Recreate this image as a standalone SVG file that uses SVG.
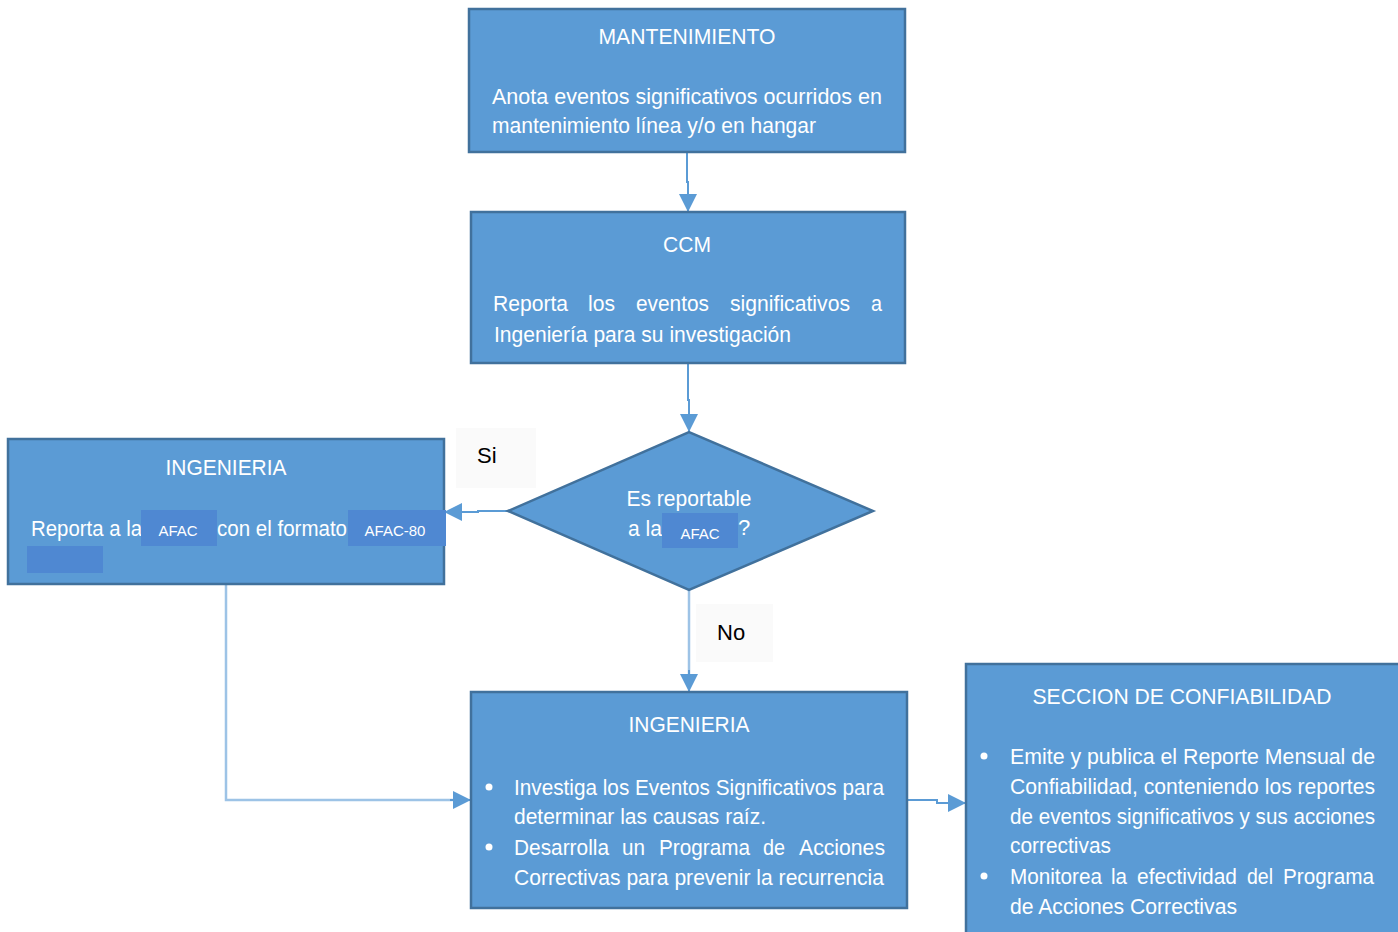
<svg xmlns="http://www.w3.org/2000/svg" width="1398" height="932" viewBox="0 0 1398 932">
  <defs>
    <style>
      .box { fill: #5B9BD5; stroke: #41719C; stroke-width: 2.5; }
      .hl { fill: #4F88D2; }
      .t { font-family: "Liberation Sans", Arial, sans-serif; font-size: 22px; fill: #FFFFFF; }
      .tc { text-anchor: middle; }
      .small { font-family: "Liberation Sans", Arial, sans-serif; font-size: 15px; fill: #FFFFFF; text-anchor: middle; }
      .lbl { font-family: "Liberation Sans", Arial, sans-serif; font-size: 22px; fill: #000000; }
      .lblbg { fill: #FAFAFA; }
      .con { fill: none; stroke: #5B9BD5; stroke-width: 2; }
      .conl { fill: none; stroke: #9DC3E6; stroke-width: 2.5; }
      .bullet { fill: #FFFFFF; }
    </style>
    <marker id="arrow" viewBox="0 0 10 10" refX="10" refY="5" markerWidth="18" markerHeight="18" markerUnits="userSpaceOnUse" orient="auto">
      <path d="M0,0 L10,5 L0,10 Z" fill="#5B9BD5"/>
    </marker>
  </defs>

  <rect width="1398" height="932" fill="#FFFFFF"/>

  <!-- label backgrounds -->
  <rect class="lblbg" x="456" y="428" width="80" height="60"/>
  <rect class="lblbg" x="696" y="604" width="77" height="58"/>

  <!-- connectors -->
  <g id="connectors">
    <path class="con" d="M687,152 L687,182 L688,182 L688,212" marker-end="url(#arrow)"/>
    <path class="con" d="M688,363 L688,400 L689,400 L689,432" marker-end="url(#arrow)"/>
    <path class="con" d="M508,511 L478,511 L478,512 L444,512" marker-end="url(#arrow)"/>
    <path class="conl" d="M689,590 L689,678"/>
    <path class="con" d="M689,670 L689,692" marker-end="url(#arrow)"/>
    <path class="conl" d="M226,584 L226,800 L458,800"/>
    <path class="con" d="M450,800 L471,800" marker-end="url(#arrow)"/>
    <path class="con" d="M907,800 L937,800 L937,803 L966,803" marker-end="url(#arrow)"/>
  </g>

  <!-- labels -->
  <text class="lbl" x="477" y="463">Si</text>
  <text class="lbl" x="717" y="640">No</text>

  <g id="mantenimiento">
    <rect class="box" x="469" y="9" width="436" height="143"/>
    <text class="t tc" x="687" y="44" textLength="177" lengthAdjust="spacingAndGlyphs">MANTENIMIENTO</text>
    <text class="t" x="492" y="104" textLength="390" lengthAdjust="spacingAndGlyphs">Anota eventos significativos ocurridos en</text>
    <text class="t" x="492" y="133" textLength="324" lengthAdjust="spacingAndGlyphs">mantenimiento línea y/o en hangar</text>
  </g>

  <g id="ccm">
    <rect class="box" x="471" y="212" width="434" height="151"/>
    <text class="t tc" x="687" y="252" textLength="48" lengthAdjust="spacingAndGlyphs">CCM</text>
    <text class="t" y="311">
      <tspan x="493" textLength="75" lengthAdjust="spacingAndGlyphs">Reporta</tspan>
      <tspan x="588" textLength="27" lengthAdjust="spacingAndGlyphs">los</tspan>
      <tspan x="636" textLength="73" lengthAdjust="spacingAndGlyphs">eventos</tspan>
      <tspan x="730" textLength="120" lengthAdjust="spacingAndGlyphs">significativos</tspan>
      <tspan x="871" textLength="11" lengthAdjust="spacingAndGlyphs">a</tspan>
    </text>
    <text class="t" x="494" y="342" textLength="297" lengthAdjust="spacingAndGlyphs">Ingeniería para su investigación</text>
  </g>

  <g id="decision">
    <polygon class="box" points="508,511 689,432 873,511 689,590"/>
    <text class="t tc" x="689" y="506" textLength="125" lengthAdjust="spacingAndGlyphs">Es reportable</text>
    <text class="t" x="628" y="536" textLength="34" lengthAdjust="spacingAndGlyphs">a la</text>
    <rect class="hl" x="662" y="513" width="76" height="35"/>
    <text class="small" x="700" y="539">AFAC</text>
    <text class="t" x="738" y="535">?</text>
  </g>

  <g id="ingenieria-afac">
    <rect class="box" x="8" y="439" width="436" height="145"/>
    <text class="t tc" x="226" y="475" textLength="121" lengthAdjust="spacingAndGlyphs">INGENIERIA</text>
    <text class="t" x="31" y="536" textLength="111" lengthAdjust="spacingAndGlyphs">Reporta a la</text>
    <rect class="hl" x="141" y="510" width="76" height="36"/>
    <text class="small" x="178" y="536">AFAC</text>
    <text class="t" x="217" y="536" textLength="130" lengthAdjust="spacingAndGlyphs">con el formato</text>
    <rect class="hl" x="348" y="510" width="98" height="36"/>
    <text class="small" x="395" y="536">AFAC-80</text>
    <rect class="hl" x="27" y="546" width="76" height="27"/>
  </g>

  <g id="ingenieria-investiga">
    <rect class="box" x="471" y="692" width="436" height="216"/>
    <text class="t tc" x="689" y="732" textLength="121" lengthAdjust="spacingAndGlyphs">INGENIERIA</text>
    <circle class="bullet" cx="489" cy="787" r="3.5"/>
    <text class="t" x="514" y="795" textLength="370" lengthAdjust="spacingAndGlyphs">Investiga los Eventos Significativos para</text>
    <text class="t" x="514" y="824" textLength="252" lengthAdjust="spacingAndGlyphs">determinar las causas raíz.</text>
    <circle class="bullet" cx="489" cy="847" r="3.5"/>
    <text class="t" y="855">
      <tspan x="514" textLength="95" lengthAdjust="spacingAndGlyphs">Desarrolla</tspan>
      <tspan x="622" textLength="23" lengthAdjust="spacingAndGlyphs">un</tspan>
      <tspan x="659" textLength="91" lengthAdjust="spacingAndGlyphs">Programa</tspan>
      <tspan x="763" textLength="22" lengthAdjust="spacingAndGlyphs">de</tspan>
      <tspan x="799" textLength="86" lengthAdjust="spacingAndGlyphs">Acciones</tspan>
    </text>
    <text class="t" x="514" y="885" textLength="370" lengthAdjust="spacingAndGlyphs">Correctivas para prevenir la recurrencia</text>
  </g>

  <g id="confiabilidad">
    <rect class="box" x="966" y="664" width="434" height="272"/>
    <text class="t tc" x="1182" y="704" textLength="299" lengthAdjust="spacingAndGlyphs">SECCION DE CONFIABILIDAD</text>
    <circle class="bullet" cx="984" cy="756" r="3.5"/>
    <text class="t" x="1010" y="764" textLength="365" lengthAdjust="spacingAndGlyphs">Emite y publica el Reporte Mensual de</text>
    <text class="t" x="1010" y="794" textLength="365" lengthAdjust="spacingAndGlyphs">Confiabilidad, conteniendo los reportes</text>
    <text class="t" x="1010" y="824" textLength="365" lengthAdjust="spacingAndGlyphs">de eventos significativos y sus acciones</text>
    <text class="t" x="1010" y="853" textLength="101" lengthAdjust="spacingAndGlyphs">correctivas</text>
    <circle class="bullet" cx="984" cy="876" r="3.5"/>
    <text class="t" y="884">
      <tspan x="1010" textLength="92" lengthAdjust="spacingAndGlyphs">Monitorea</tspan>
      <tspan x="1111" textLength="16" lengthAdjust="spacingAndGlyphs">la</tspan>
      <tspan x="1137" textLength="100" lengthAdjust="spacingAndGlyphs">efectividad</tspan>
      <tspan x="1247" textLength="26" lengthAdjust="spacingAndGlyphs">del</tspan>
      <tspan x="1283" textLength="91" lengthAdjust="spacingAndGlyphs">Programa</tspan>
    </text>
    <text class="t" x="1010" y="914" textLength="227" lengthAdjust="spacingAndGlyphs">de Acciones Correctivas</text>
  </g>
</svg>
